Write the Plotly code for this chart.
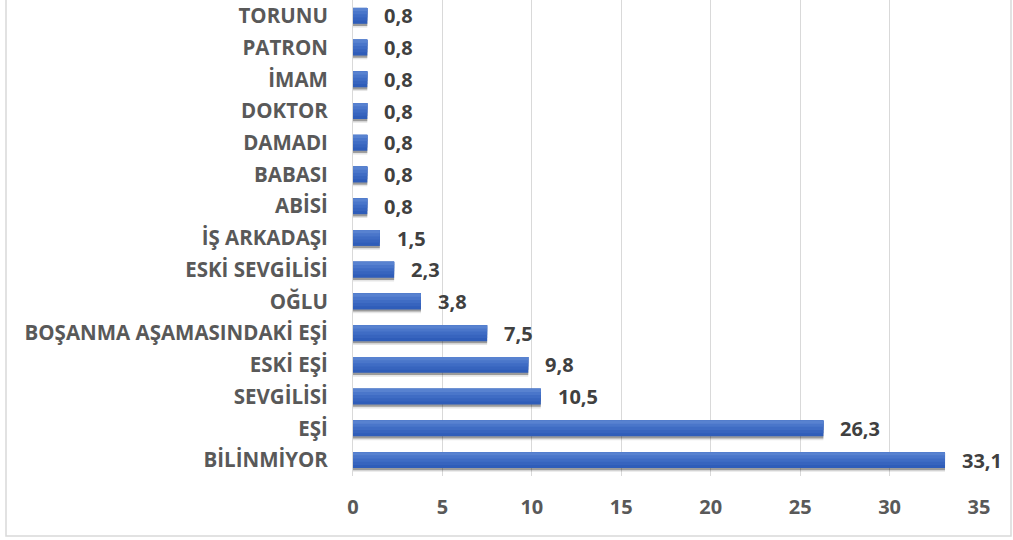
import plotly.graph_objects as go

categories = ["BİLİNMİYOR", "EŞİ", "SEVGİLİSİ", "ESKİ EŞİ", "BOŞANMA AŞAMASINDAKİ EŞİ",
              "OĞLU", "ESKİ SEVGİLİSİ", "İŞ ARKADAŞI", "ABİSİ", "BABASI", "DAMADI",
              "DOKTOR", "İMAM", "PATRON", "TORUNU"]
values = [33.1, 26.3, 10.5, 9.8, 7.5, 3.8, 2.3, 1.5, 0.8, 0.8, 0.8, 0.8, 0.8, 0.8, 0.8]
labels = [f"{v:.1f}".replace(".", ",") for v in values]
x_ticks = [0, 5, 10, 15, 20, 25, 30, 35]

W, H = 1013, 540
L, R, T, B = 353, 34, 0, 64
pw, ph = W - L - R, H - T - B

FONT = "Open Sans"

fig = go.Figure()
# soft shadow (outer faint, inner darker)
fig.add_trace(go.Bar(
    y=categories, x=values, orientation="h",
    marker=dict(color="rgba(0,0,0,0.10)", line=dict(width=0)),
    width=0.5, offset=-0.37, hoverinfo="skip",
))
fig.add_trace(go.Bar(
    y=categories, x=values, orientation="h",
    marker=dict(color="rgba(0,0,0,0.32)", line=dict(width=0)),
    width=0.5, offset=-0.32, hoverinfo="skip",
))
# vertical gradient: successive lighter layers each covering the upper part of the bar
stripe_colors = ["#2F5DB9", "#3764BE", "#3F6CC4", "#4A76CA", "#5882D0"]
n = len(stripe_colors)
sw = 0.5 / n
for i, col in enumerate(stripe_colors):
    fig.add_trace(go.Bar(
        y=categories, x=values, orientation="h",
        marker=dict(color=col, line=dict(width=0)),
        width=0.5 - i * sw, offset=-0.25 + i * sw,
        hoverinfo="x+y" if i == 0 else "skip",
    ))

for c, v, t in zip(categories, values, labels):
    fig.add_annotation(x=v, y=c, text=t, xanchor="left", xshift=15,
                       showarrow=False,
                       font=dict(family=FONT, size=20, color="#404040", weight="bold"))

fig.update_layout(
    width=W, height=H,
    margin=dict(l=L, r=R, t=T, b=B, autoexpand=False),
    paper_bgcolor="white", plot_bgcolor="white",
    showlegend=False, barmode="overlay",
    xaxis=dict(range=[0, 35], tickvals=x_ticks, showgrid=True, gridcolor="#D9D9D9",
               gridwidth=1, zeroline=False, showline=False, automargin=False,
               tickfont=dict(family=FONT, size=20, color="#595959", weight="bold"),
               ticklabelstandoff=17, fixedrange=True),
    yaxis=dict(categoryorder="array", categoryarray=categories, showgrid=False,
               showline=True, linecolor="#D9D9D9", linewidth=1, automargin=False,
               tickfont=dict(family=FONT, size=20.5, color="#595959", weight="bold"),
               ticklabelstandoff=20, range=[-0.5, 14.5], fixedrange=True),
    shapes=[dict(type="rect", xref="paper", yref="paper",
                 x0=(6 - L) / pw, x1=(1011 - L) / pw,
                 y0=-(536 - (T + ph)) / ph, y1=1.2,
                 line=dict(color="#D9D9D9", width=1.5), layer="below")],
)

fig.write_html("out.html", config={"displayModeBar": False},
               post_script="document.body.style.margin='0';document.body.style.padding='0';")
